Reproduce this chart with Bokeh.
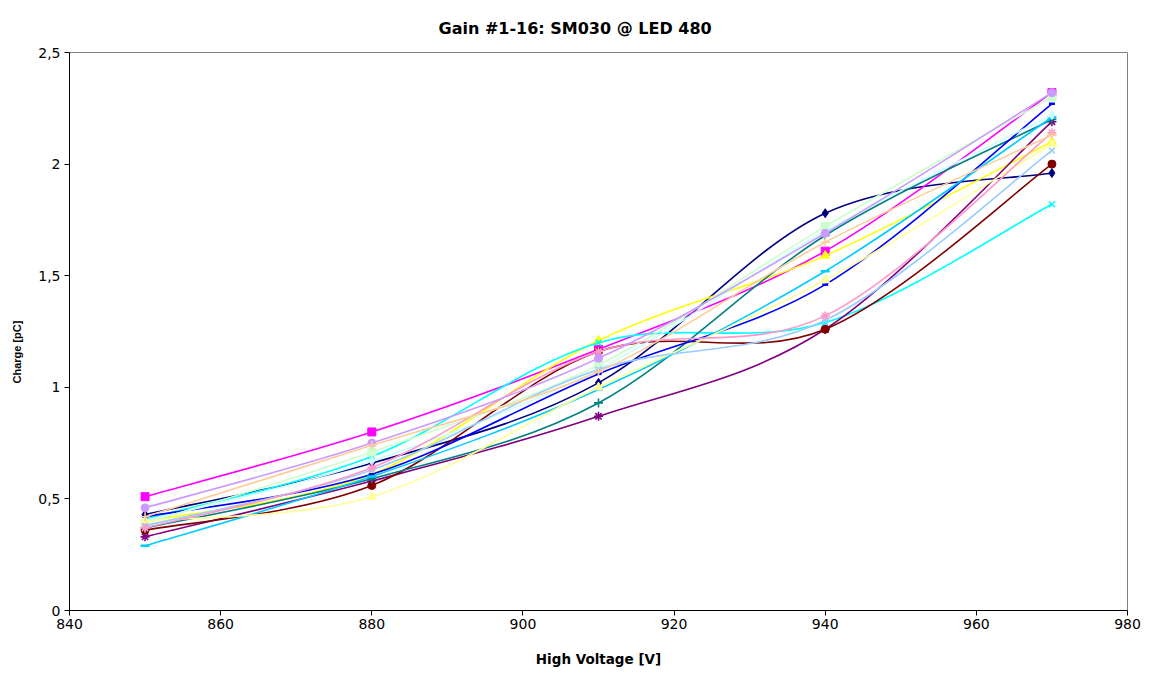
from bokeh.plotting import figure
from bokeh.models import ColumnDataSource, Range1d, FixedTicker, Title
from bokeh.embed import file_html
from bokeh.resources import INLINE

hv = [850, 880, 910, 940, 970]

s01 = [0.43, 0.66, 1.02, 1.78, 1.96]
s02 = [0.51, 0.80, 1.17, 1.61, 2.32]
s03 = [0.40, 0.61, 1.21, 1.59, 2.10]
s04 = [0.41, 0.69, 1.20, 1.29, 1.82]
s05 = [0.33, 0.58, 0.87, 1.26, 2.19]
s06 = [0.36, 0.56, 1.16, 1.26, 2.00]
s07 = [0.37, 0.59, 0.93, 1.68, 2.20]
s08 = [0.42, 0.61, 1.06, 1.46, 2.27]
s09 = [0.29, 0.60, 0.99, 1.52, 2.21]
s10 = [0.40, 0.67, 1.08, 1.70, 2.22]
s11 = [0.39, 0.71, 1.10, 1.72, 2.30]
s12 = [0.40, 0.51, 1.00, 1.48, 2.09]
s13 = [0.38, 0.63, 1.08, 1.30, 2.06]
s14 = [0.37, 0.64, 1.16, 1.32, 2.14]
s15 = [0.46, 0.75, 1.13, 1.69, 2.32]
s16 = [0.42, 0.74, 1.07, 1.65, 2.13]

series = [s01, s02, s03, s04, s05, s06, s07, s08,
          s09, s10, s11, s12, s13, s14, s15, s16]
colors = ["#000080", "#FF00FF", "#FFFF00", "#00FFFF", "#800080", "#800000",
          "#008080", "#0000FF", "#00CCFF", "#CCFFFF", "#CCFFCC", "#FFFF99",
          "#99CCFF", "#FF99CC", "#CC99FF", "#FFCC99"]
markers = ["diamond", "square", "triangle", "x", "asterisk", "circle", "cross",
           "dash", "dash", "diamond", "square", "triangle", "x", "asterisk",
           "circle", "cross"]
sizes = [9, 8, 9, 8, 9, 8, 9, 6, 9, 9, 8, 9, 8, 9, 8, 9]

WIDE = "DejaVu Sans"
ARIAL = "Liberation Sans"

p = figure(width=1153, height=673, output_backend="svg", toolbar_location=None,
           x_range=Range1d(840, 980), y_range=Range1d(0, 2.5),
           min_border_left=68, min_border_right=26, min_border_top=52,
           min_border_bottom=63)
p.title = None

p.xgrid.visible = False
p.ygrid.visible = False
p.outline_line_color = "#808080"
p.outline_line_width = 1
p.background_fill_color = "white"
p.border_fill_color = "white"

p.xaxis.ticker = FixedTicker(ticks=[840, 860, 880, 900, 920, 940, 960, 980])
p.yaxis.ticker = FixedTicker(ticks=[0, 0.5, 1, 1.5, 2, 2.5])
p.yaxis.major_label_overrides = {0: "0", 0.5: "0,5", 1: "1", 1.5: "1,5", 2: "2", 2.5: "2,5"}
for ax in (p.xaxis[0], p.yaxis[0]):
    ax.axis_line_color = "black"
    ax.axis_line_width = 1
    ax.major_tick_line_color = "black"
    ax.major_tick_out = 5
    ax.major_tick_in = 0
    ax.minor_tick_line_color = None
    ax.major_label_text_font = WIDE
    ax.major_label_text_font_size = "14px"
    ax.major_label_text_color = "black"
p.xaxis.axis_label = "High Voltage [V]"
p.xaxis.axis_label_text_font = WIDE
p.xaxis.axis_label_text_font_size = "13.5px"
p.xaxis.axis_label_text_font_style = "bold"
p.xaxis.axis_label_text_color = "black"
p.xaxis.major_label_standoff = 3
p.yaxis.major_label_standoff = 4
p.xaxis.axis_label_standoff = 19

# chart title and y-axis title placed like the original
p.add_layout(Title(text="Gain #1-16: SM030 @ LED 480", align="left", offset=369,
                   vertical_align="bottom",
                   text_font=WIDE, text_font_size="16px", text_font_style="bold",
                   text_color="black", standoff=30), "above")
p.add_layout(Title(text="Charge [pC]", align="left", offset=227,
                   vertical_align="top",
                   text_font=ARIAL, text_font_size="11px", text_font_style="bold",
                   text_color="black", standoff=21), "left")

# smoothed lines (Excel-like Bezier smoothing) then markers
for ys, col, mk, sz in zip(series, colors, markers, sizes):
    n = len(hv)
    x0, y0, x1, y1, cx0, cy0, cx1, cy1 = [], [], [], [], [], [], [], []
    for i in range(n - 1):
        im1 = max(i - 1, 0)
        ip2 = min(i + 2, n - 1)
        x0.append(hv[i]); y0.append(ys[i])
        x1.append(hv[i + 1]); y1.append(ys[i + 1])
        cx0.append(hv[i] + (hv[i + 1] - hv[im1]) / 6.0)
        cy0.append(ys[i] + (ys[i + 1] - ys[im1]) / 6.0)
        cx1.append(hv[i + 1] - (hv[ip2] - hv[i]) / 6.0)
        cy1.append(ys[i + 1] - (ys[ip2] - ys[i]) / 6.0)
    src = ColumnDataSource(dict(x0=x0, y0=y0, x1=x1, y1=y1,
                                cx0=cx0, cy0=cy0, cx1=cx1, cy1=cy1))
    p.bezier(x0="x0", y0="y0", x1="x1", y1="y1", cx0="cx0", cy0="cy0",
             cx1="cx1", cy1="cy1", source=src, line_color=col, line_width=1.6)
    msrc = ColumnDataSource(dict(x=hv, y=ys))
    if mk in ("x", "asterisk", "cross", "dash"):
        p.scatter("x", "y", source=msrc, marker=mk, size=sz, line_color=col,
                  line_width=2.5 if mk == "dash" else 1.6, fill_color=col)
    else:
        p.scatter("x", "y", source=msrc, marker=mk, size=sz, line_color=col,
                  fill_color=col)

open("out.html", "w").write(file_html(p, INLINE))
